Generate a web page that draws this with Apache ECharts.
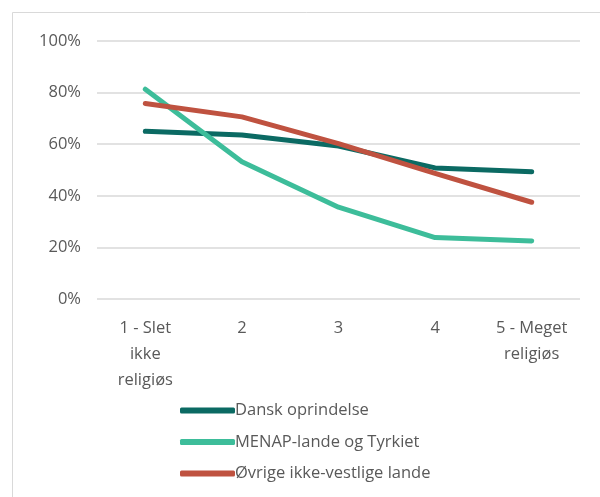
<!DOCTYPE html>
<html>
<head>
<meta charset="utf-8">
<script src="https://cdn.jsdelivr.net/npm/echarts@6/dist/echarts.min.js"></script>
<style>
  html, body { margin: 0; padding: 0; background: #fff; }
  #chart { width: 600px; height: 497px; }
</style>
</head>
<body>
<div id="chart"></div>
<script>
const categories = ['1 - Slet\nikke\nreligiøs', '2', '3', '4', '5 - Meget\nreligiøs']
const dansk = [65.0, 63.6, 59.3, 50.8, 49.3]
const menap = [81.3, 53.2, 35.6, 23.8, 22.5]
const oevrige = [75.8, 70.6, 60.2, 48.7, 37.5]
const seriesNames = ['Dansk oprindelse', 'MENAP-lande og Tyrkiet', 'Øvrige ikke-vestlige lande']
const colorList = ['#0B6A63', '#3DBD9A', '#BF5240']

const textColor = '#595959'
const fontFamily = '"Open Sans", "Noto Sans", sans-serif'

const myChart = echarts.init(document.getElementById('chart'))

const makeLine = (name, values) => ({
  name,
  type: 'line',
  data: values,
  symbol: 'none',
  lineStyle: { width: 5, cap: 'round', join: 'round' },
})

const option = {
  backgroundColor: '#fff',
  color: colorList,
  animation: false,
  textStyle: { fontFamily },
  graphic: [
    {
      type: 'rect',
      shape: { x: 12.5, y: 12.5, width: 600, height: 500 },
      style: { fill: 'none', stroke: '#d9d9d9', lineWidth: 1 },
      silent: true,
    },
  ],
  legend: {
    orient: 'vertical',
    left: 175,
    top: 397,
    icon: 'roundRect',
    itemWidth: 55,
    itemHeight: 6,
    itemGap: 14.5,
    textStyle: { color: textColor, fontSize: 16.5, padding: [0, 0, 0, -5] },
    data: seriesNames,
  },
  grid: {
    left: 97,
    right: 20,
    top: 41,
    bottom: 198,
  },
  xAxis: {
    type: 'category',
    boundaryGap: true,
    data: categories,
    axisLine: { show: false },
    axisTick: { show: false },
    axisLabel: {
      color: textColor,
      fontSize: 16.5,
      lineHeight: 26,
      margin: 16,
      interval: 0,
    },
  },
  yAxis: {
    type: 'value',
    min: 0,
    max: 100,
    interval: 20,
    axisLine: { show: false },
    axisTick: { show: false },
    axisLabel: {
      color: textColor,
      fontSize: 16.5,
      margin: 16,
      formatter: '{value}%',
    },
    splitLine: { lineStyle: { color: '#d9d9d9', width: 1.5 } },
  },
  series: [
    makeLine(seriesNames[0], dansk),
    makeLine(seriesNames[1], menap),
    makeLine(seriesNames[2], oevrige),
  ],
}
myChart.setOption(option, true)
</script>
</body>
</html>
